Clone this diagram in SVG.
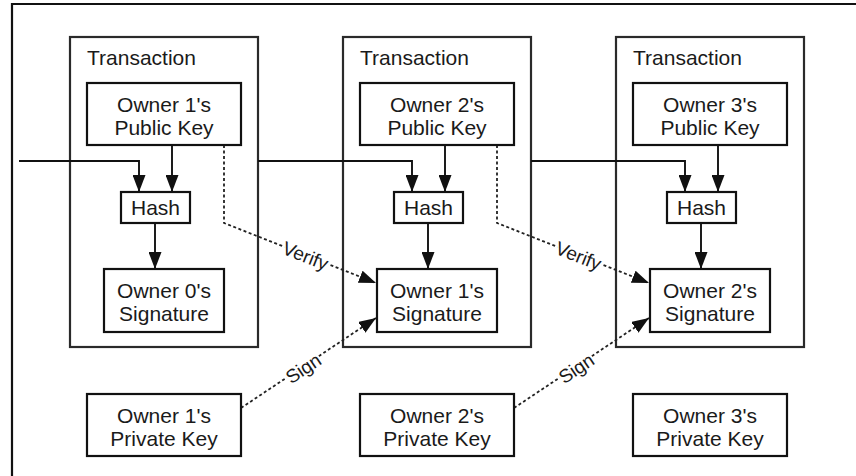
<svg xmlns="http://www.w3.org/2000/svg" width="856" height="476" viewBox="0 0 856 476">
<style>
  .frame{fill:none;stroke:#111;stroke-width:2.2}
  .tx{fill:none;stroke:#2a2a2a;stroke-width:2.2}
  .box{fill:#fff;stroke:#111;stroke-width:2.2}
  .t{font-family:"Liberation Sans",Arial,sans-serif;font-size:21px;fill:#1a1a1a;text-anchor:middle}
  .tl{font-family:"Liberation Sans",Arial,sans-serif;font-size:21px;fill:#1a1a1a}
  .ln{fill:none;stroke:#111;stroke-width:1.9}
  .dot{fill:none;stroke:#222;stroke-width:1.8;stroke-dasharray:3 2.5}
  .lab{font-family:"Liberation Sans",Arial,sans-serif;font-size:19px;fill:#1a1a1a;text-anchor:middle;stroke:#fff;stroke-width:4;paint-order:stroke;stroke-linejoin:round}
</style>
<defs>
  <marker id="ah" markerUnits="userSpaceOnUse" markerWidth="17" markerHeight="13" refX="17" refY="6.5" orient="auto">
    <path d="M0,0 L17,6.5 L0,13 z" fill="#111"/>
  </marker>
</defs>
<rect width="856" height="476" fill="#fff"/>
<path class="frame" d="M12,476 V4 H856"/>

<g id="tx1">
  <rect class="tx" x="70" y="37" width="188" height="310"/>
  <text class="tl" x="87" y="65">Transaction</text>
</g>
<g id="tx2">
  <rect class="tx" x="343" y="37" width="188" height="310"/>
  <text class="tl" x="360" y="65">Transaction</text>
</g>
<g id="tx3">
  <rect class="tx" x="616" y="37" width="188" height="310"/>
  <text class="tl" x="633" y="65">Transaction</text>
</g>

<g id="connectors">
  <path class="ln" d="M19,161 H139 V192" marker-end="url(#ah)"/>
  <path class="ln" d="M258,161 H412 V192" marker-end="url(#ah)"/>
  <path class="ln" d="M531,161 H685 V192" marker-end="url(#ah)"/>
  <path class="ln" d="M172,145 V192" marker-end="url(#ah)"/>
  <path class="ln" d="M445,145 V192" marker-end="url(#ah)"/>
  <path class="ln" d="M718,145 V192" marker-end="url(#ah)"/>
  <path class="ln" d="M155,223 V269" marker-end="url(#ah)"/>
  <path class="ln" d="M428,223 V269" marker-end="url(#ah)"/>
  <path class="ln" d="M701,223 V269" marker-end="url(#ah)"/>
  <path class="dot" d="M224,145 V223 L376,283" marker-end="url(#ah)"/>
  <path class="dot" d="M497,145 V223 L649,283" marker-end="url(#ah)"/>
  <path class="dot" d="M241,408 L376,318" marker-end="url(#ah)"/>
  <path class="dot" d="M514,408 L649,318" marker-end="url(#ah)"/>
  <text class="lab" transform="translate(303,262) rotate(21.5)">Verify</text>
  <text class="lab" transform="translate(576,262) rotate(21.5)">Verify</text>
  <text class="lab" transform="translate(307,374) rotate(-33.7)">Sign</text>
  <text class="lab" transform="translate(580,374) rotate(-33.7)">Sign</text>
</g>

<g id="pub1"><rect class="box" x="87" y="83" width="154" height="62"/><text class="t" x="164" y="112">Owner 1's</text><text class="t" x="164" y="135">Public Key</text></g>
<g id="pub2"><rect class="box" x="360" y="83" width="154" height="62"/><text class="t" x="437" y="112">Owner 2's</text><text class="t" x="437" y="135">Public Key</text></g>
<g id="pub3"><rect class="box" x="633" y="83" width="154" height="62"/><text class="t" x="710" y="112">Owner 3's</text><text class="t" x="710" y="135">Public Key</text></g>

<g id="hash1"><rect class="box" x="121" y="192" width="69" height="31"/><text class="t" x="155.5" y="215">Hash</text></g>
<g id="hash2"><rect class="box" x="394" y="192" width="69" height="31"/><text class="t" x="428.5" y="215">Hash</text></g>
<g id="hash3"><rect class="box" x="667" y="192" width="69" height="31"/><text class="t" x="701.5" y="215">Hash</text></g>

<g id="sig0"><rect class="box" x="104" y="269" width="120" height="63"/><text class="t" x="164" y="298">Owner 0's</text><text class="t" x="164" y="321">Signature</text></g>
<g id="sig1"><rect class="box" x="377" y="269" width="120" height="63"/><text class="t" x="437" y="298">Owner 1's</text><text class="t" x="437" y="321">Signature</text></g>
<g id="sig2"><rect class="box" x="650" y="269" width="120" height="63"/><text class="t" x="710" y="298">Owner 2's</text><text class="t" x="710" y="321">Signature</text></g>

<g id="priv1"><rect class="box" x="87" y="394" width="154" height="62"/><text class="t" x="164" y="423">Owner 1's</text><text class="t" x="164" y="446">Private Key</text></g>
<g id="priv2"><rect class="box" x="360" y="394" width="154" height="62"/><text class="t" x="437" y="423">Owner 2's</text><text class="t" x="437" y="446">Private Key</text></g>
<g id="priv3"><rect class="box" x="633" y="394" width="154" height="62"/><text class="t" x="710" y="423">Owner 3's</text><text class="t" x="710" y="446">Private Key</text></g>
</svg>
